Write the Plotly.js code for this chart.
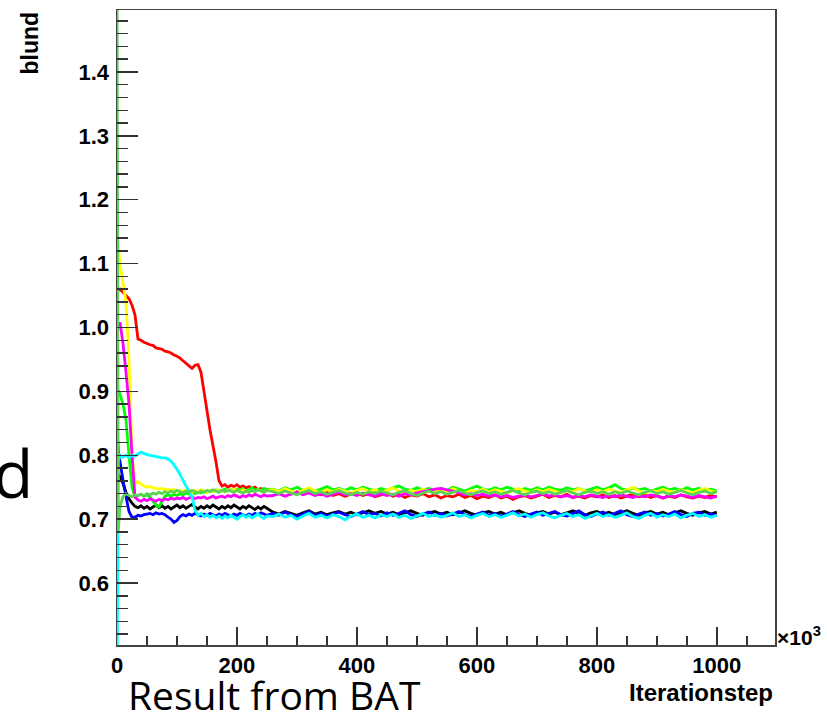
<!DOCTYPE html>
<html>
<head>
<meta charset="utf-8">
<script src="https://cdn.plot.ly/plotly-3.0.1.min.js"></script>
<style>
html,body{margin:0;padding:0;background:#fff;}
#chart{width:827px;height:714px;}
</style>
</head>
<body>
<div id="chart"></div>
<script>
// x positions (iteration step, in units of 10^3)
const xEarly = [0,2,5,10,15,20,25,30,
  35,40,45,50,55,60,65,70,75,80,85,90,95,100,
  105,110,115,120,125,130,135,140,145,150,155,160,165,170,
  175,180,185,190,195,200,205,210,215,220,225,230,235,240,245,250];
const xLate = [260,270,280,290,300,310,320,330,340,350,360,370,380,390,
  400,410,420,430,440,450,460,470,480,490,500,510,520,530,
  540,550,560,570,580,590,600,610,620,630,640,650,660,670,
  680,690,700,710,720,730,740,750,760,770,780,790,800,810,
  820,830,840,850,860,870,880,890,900,910,920,930,940,950,960,970,980,990,1000];

// chain values (blund)
const blackEarly = [0.777,0.770,0.766,0.756,0.742,0.732,0.725,0.720,
  0.718,0.721,0.717,0.720,0.716,0.719,0.722,0.718,0.721,0.717,0.720,0.716,0.719,0.722,
  0.718,0.721,0.717,0.720,0.723,0.719,0.716,0.720,0.717,0.721,0.718,0.722,0.719,0.716,
  0.720,0.717,0.721,0.718,0.722,0.719,0.716,0.720,0.717,0.721,0.718,0.715,0.719,0.716,0.720,0.717];
const blackLate = [0.711,0.708,0.712,0.709,0.706,0.710,0.713,0.708,0.711,0.707,0.710,0.712,0.708,0.711,
  0.707,0.710,0.713,0.709,0.712,0.708,0.711,0.707,0.710,0.713,0.709,0.706,0.710,0.712,
  0.708,0.711,0.707,0.710,0.713,0.709,0.706,0.710,0.712,0.708,0.711,0.707,0.710,0.713,
  0.709,0.706,0.710,0.712,0.708,0.711,0.707,0.710,0.713,0.709,0.706,0.710,0.712,0.708,
  0.711,0.707,0.710,0.713,0.709,0.706,0.710,0.712,0.708,0.711,0.707,0.710,0.713,0.709,0.706,0.710,0.712,0.708,0.711];

const redEarly = [1.060,1.058,1.060,1.055,1.050,1.045,1.035,1.020,
  0.982,0.980,0.977,0.975,0.973,0.972,0.968,0.967,0.966,0.963,0.962,0.960,0.957,0.955,
  0.952,0.948,0.944,0.940,0.936,0.941,0.942,0.930,0.900,0.870,0.840,0.815,0.790,0.760,
  0.752,0.754,0.750,0.753,0.751,0.754,0.750,0.752,0.749,0.751,0.748,0.750,0.746,0.748,0.745,0.747];
const redLate = [0.745,0.742,0.746,0.740,0.743,0.739,0.744,0.741,0.738,0.742,0.737,0.740,0.736,0.739,
  0.741,0.737,0.740,0.735,0.738,0.742,0.736,0.739,0.734,0.738,0.736,0.740,0.735,0.738,
  0.733,0.737,0.735,0.739,0.734,0.737,0.732,0.736,0.734,0.738,0.733,0.736,0.731,0.735,
  0.737,0.733,0.736,0.739,0.734,0.737,0.735,0.739,0.734,0.736,0.733,0.737,0.735,0.738,
  0.734,0.737,0.733,0.736,0.739,0.735,0.738,0.734,0.737,0.733,0.736,0.734,0.738,0.735,0.733,0.736,0.734,0.737,0.735];

const greenEarly = [0.905,0.902,0.895,0.880,0.855,0.800,0.750,0.735,
  0.737,0.739,0.736,0.738,0.735,0.728,0.722,0.719,0.728,0.736,0.738,0.736,0.739,0.737,
  0.740,0.738,0.741,0.739,0.742,0.740,0.743,0.741,0.744,0.742,0.745,0.743,0.746,0.744,
  0.745,0.747,0.744,0.746,0.743,0.747,0.745,0.748,0.744,0.746,0.749,0.745,0.747,0.744,0.748,0.746];
const greenLate = [0.747,0.744,0.749,0.746,0.750,0.745,0.748,0.744,0.747,0.751,0.746,0.748,0.745,0.749,
  0.746,0.750,0.747,0.744,0.748,0.745,0.749,0.752,0.747,0.745,0.749,0.746,0.748,0.744,
  0.748,0.745,0.750,0.747,0.744,0.748,0.752,0.747,0.745,0.749,0.746,0.750,0.747,0.744,
  0.748,0.745,0.749,0.746,0.750,0.747,0.745,0.749,0.746,0.748,0.744,0.747,0.750,0.746,
  0.749,0.754,0.748,0.745,0.749,0.746,0.748,0.744,0.747,0.750,0.746,0.748,0.745,0.749,0.746,0.748,0.745,0.747,0.744];

const blueEarly = [0.847,0.808,0.790,0.761,0.735,0.712,0.703,0.703,
  0.706,0.705,0.707,0.708,0.709,0.707,0.710,0.708,0.709,0.707,0.703,0.700,0.695,0.698,
  0.704,0.707,0.705,0.708,0.706,0.709,0.707,0.705,0.708,0.706,0.709,0.707,0.705,0.708,
  0.706,0.709,0.707,0.705,0.708,0.706,0.709,0.707,0.705,0.708,0.706,0.709,0.707,0.710,0.708,0.706];
const blueLate = [0.709,0.706,0.711,0.707,0.704,0.708,0.712,0.706,0.709,0.705,0.708,0.711,0.707,0.704,
  0.708,0.712,0.707,0.709,0.705,0.710,0.706,0.709,0.713,0.707,0.704,0.708,0.711,0.706,
  0.709,0.705,0.708,0.712,0.707,0.704,0.708,0.711,0.706,0.709,0.705,0.708,0.712,0.707,
  0.704,0.708,0.711,0.706,0.709,0.712,0.707,0.705,0.709,0.713,0.707,0.704,0.708,0.711,
  0.706,0.709,0.713,0.707,0.704,0.708,0.711,0.706,0.709,0.705,0.708,0.712,0.707,0.704,0.709,0.711,0.706,0.708,0.705];

const yellowEarly = [1.170,1.130,1.100,1.070,1.040,0.950,0.800,0.757,
  0.758,0.755,0.752,0.750,0.751,0.749,0.748,0.747,0.748,0.746,0.747,0.745,0.746,0.744,
  0.745,0.743,0.746,0.744,0.742,0.745,0.743,0.746,0.744,0.742,0.745,0.743,0.746,0.744,
  0.745,0.743,0.746,0.744,0.747,0.745,0.743,0.746,0.744,0.742,0.745,0.743,0.746,0.744,0.742,0.745];
const yellowLate = [0.746,0.743,0.748,0.744,0.741,0.745,0.749,0.744,0.742,0.746,0.743,0.747,0.744,0.741,
  0.745,0.748,0.743,0.746,0.742,0.745,0.749,0.744,0.741,0.745,0.743,0.747,0.744,0.742,
  0.746,0.743,0.748,0.744,0.741,0.745,0.743,0.747,0.742,0.746,0.744,0.741,0.745,0.748,
  0.744,0.742,0.746,0.743,0.747,0.744,0.741,0.745,0.743,0.748,0.744,0.742,0.746,0.743,
  0.747,0.744,0.742,0.746,0.750,0.744,0.741,0.745,0.743,0.747,0.744,0.742,0.746,0.743,0.741,0.745,0.748,0.744,0.742];

const magentaEarly = [0.990,1.003,1.008,0.975,0.930,0.880,0.800,0.735,
  0.730,0.728,0.731,0.729,0.732,0.730,0.728,0.731,0.729,0.732,0.730,0.733,0.731,0.733,
  0.732,0.734,0.731,0.733,0.735,0.732,0.734,0.733,0.735,0.732,0.734,0.736,0.733,0.735,
  0.736,0.734,0.737,0.735,0.738,0.736,0.734,0.737,0.735,0.738,0.736,0.739,0.737,0.735,0.738,0.736];
const magentaLate = [0.737,0.740,0.736,0.739,0.742,0.738,0.741,0.737,0.740,0.736,0.739,0.742,0.738,0.740,
  0.737,0.741,0.738,0.736,0.740,0.737,0.739,0.736,0.740,0.738,0.741,0.743,0.745,0.747,
  0.748,0.746,0.744,0.741,0.738,0.740,0.737,0.739,0.736,0.738,0.735,0.737,0.734,0.736,
  0.738,0.735,0.737,0.740,0.736,0.738,0.735,0.737,0.734,0.737,0.735,0.738,0.736,0.734,
  0.737,0.735,0.738,0.736,0.734,0.737,0.735,0.738,0.736,0.733,0.737,0.735,0.738,0.736,0.734,0.737,0.735,0.733,0.736];

const cyanEarly = [0.400,0.790,0.800,0.797,0.800,0.796,0.800,0.799,
  0.802,0.805,0.803,0.801,0.800,0.799,0.798,0.797,0.796,0.796,0.794,0.791,0.785,0.778,
  0.770,0.761,0.752,0.745,0.735,0.714,0.706,0.709,0.704,0.707,0.703,0.706,0.702,0.705,
  0.701,0.705,0.702,0.706,0.703,0.700,0.704,0.707,0.703,0.706,0.702,0.705,0.708,0.704,0.701,0.705];
const cyanLate = [0.704,0.708,0.703,0.706,0.700,0.705,0.709,0.703,0.706,0.702,0.707,0.704,0.699,0.705,
  0.708,0.703,0.706,0.702,0.707,0.704,0.708,0.703,0.706,0.701,0.705,0.709,0.704,0.707,
  0.703,0.706,0.710,0.704,0.707,0.702,0.706,0.709,0.704,0.707,0.703,0.706,0.710,0.705,
  0.708,0.703,0.707,0.710,0.705,0.702,0.706,0.709,0.704,0.707,0.701,0.705,0.709,0.704,
  0.707,0.703,0.706,0.710,0.704,0.701,0.706,0.709,0.703,0.707,0.704,0.708,0.702,0.706,0.709,0.704,0.707,0.703,0.706];

const lightGreenEarly = [1.600,0.680,0.720,0.735,0.740,0.737,0.735,0.738,
  0.737,0.739,0.736,0.740,0.738,0.741,0.739,0.742,0.740,0.743,0.741,0.744,0.742,0.745,
  0.743,0.741,0.744,0.742,0.745,0.743,0.741,0.744,0.742,0.745,0.743,0.746,0.744,0.742,
  0.745,0.743,0.746,0.744,0.742,0.745,0.743,0.741,0.744,0.742,0.745,0.743,0.746,0.744,0.742,0.745];
const lightGreenLate = [0.743,0.740,0.744,0.741,0.738,0.742,0.745,0.740,0.743,0.739,0.742,0.745,0.741,0.738,
  0.742,0.739,0.743,0.740,0.744,0.741,0.738,0.742,0.745,0.740,0.737,0.741,0.744,0.740,
  0.743,0.739,0.742,0.745,0.741,0.738,0.742,0.744,0.740,0.743,0.739,0.742,0.745,0.741,
  0.738,0.742,0.744,0.740,0.743,0.739,0.742,0.745,0.741,0.738,0.742,0.744,0.740,0.743,
  0.739,0.743,0.740,0.744,0.741,0.738,0.742,0.745,0.740,0.743,0.739,0.742,0.745,0.741,0.738,0.742,0.744,0.740,0.743];

const chainNames = ['chain 1','chain 2','chain 3','chain 4','chain 5','chain 6','chain 7','chain 8'];
const chainColors = ['#000000','#ff0000','#00ff00','#0000ff','#ffff00','#ff00ff','#00ffff','#59d454'];
const chainData = [
  [blackEarly, blackLate],
  [redEarly, redLate],
  [greenEarly, greenLate],
  [blueEarly, blueLate],
  [yellowEarly, yellowLate],
  [magentaEarly, magentaLate],
  [cyanEarly, cyanLate],
  [lightGreenEarly, lightGreenLate]
];

const xAll = xEarly.concat(xLate);
const traces = chainData.map((d, i) => ({
  type: 'scatter',
  mode: 'lines',
  name: chainNames[i],
  x: xAll,
  y: d[0].concat(d[1]),
  line: {color: chainColors[i], width: 2.8, simplify: false},
  hoverinfo: 'skip'
}));

const W = 658, H = 635, L = 117, T = 10;
const px = v => (v - L) / W;
const py = v => (T + H - v) / H;

const tickFont = {family: 'Liberation Sans, Arial, sans-serif', size: 22, weight: 'bold', color: '#000'};

const layout = {
  width: 827, height: 714,
  margin: {l: 117, r: 52, t: 10, b: 69, pad: 0},
  paper_bgcolor: '#ffffff', plot_bgcolor: '#ffffff',
  showlegend: false,
  xaxis: {
    range: [0, 1097], tickmode: 'linear', tick0: 0, dtick: 200,
    ticks: 'inside', ticklen: 18, tickwidth: 1.5, tickcolor: '#333',
    minor: {tick0: 0, dtick: 50, ticks: 'inside', ticklen: 9, tickwidth: 1.5, tickcolor: '#333', showgrid: false},
    showgrid: false, zeroline: false, showline: true, mirror: true,
    linecolor: '#444', linewidth: 1.5, tickfont: tickFont, ticklabelstandoff: 0
  },
  yaxis: {
    range: [0.503, 1.497], tickmode: 'linear', tick0: 0.5, dtick: 0.1, tickformat: '.1f',
    ticks: 'inside', ticklen: 21, tickwidth: 1.5, tickcolor: '#333',
    minor: {tick0: 0.5, dtick: 0.02, ticks: 'inside', ticklen: 11, tickwidth: 1.5, tickcolor: '#333', showgrid: false},
    showgrid: false, zeroline: false, showline: true, mirror: true,
    linecolor: '#444', linewidth: 1.5, tickfont: tickFont, ticklabelstandoff: 2
  },
  annotations: [
    {xref: 'paper', yref: 'paper', x: px(29), y: 1, xanchor: 'center', yanchor: 'top',
     text: 'blund', textangle: -90, showarrow: false,
     font: {family: 'Liberation Sans, Arial, sans-serif', size: 23, weight: 'bold', color: '#000'}},
    {xref: 'paper', yref: 'paper', x: px(775), y: py(692), xanchor: 'right', yanchor: 'middle',
     text: 'Iterationstep', showarrow: false,
     font: {family: 'Liberation Sans, Arial, sans-serif', size: 24, weight: 'bold', color: '#000'}},
    {xref: 'paper', yref: 'paper', x: px(775), y: py(636), xanchor: 'left', yanchor: 'middle',
     text: '×10<sup>3</sup>', showarrow: false,
     font: {family: 'Liberation Sans, Arial, sans-serif', size: 21, weight: 'bold', color: '#000'}},
    {xref: 'paper', yref: 'paper', x: px(126), y: py(694), xanchor: 'left', yanchor: 'middle',
     text: 'Result from BAT', showarrow: false,
     font: {family: 'Open Sans, sans-serif', size: 39, color: '#000'}},
    {xref: 'paper', yref: 'paper', x: px(35), y: py(472), xanchor: 'right', yanchor: 'middle',
     text: 'd', showarrow: false,
     font: {family: 'Open Sans, sans-serif', size: 66, color: '#000'}}
  ]
};

Plotly.newPlot('chart', traces, layout, {displayModeBar: false, staticPlot: true});
</script>
</body>
</html>
